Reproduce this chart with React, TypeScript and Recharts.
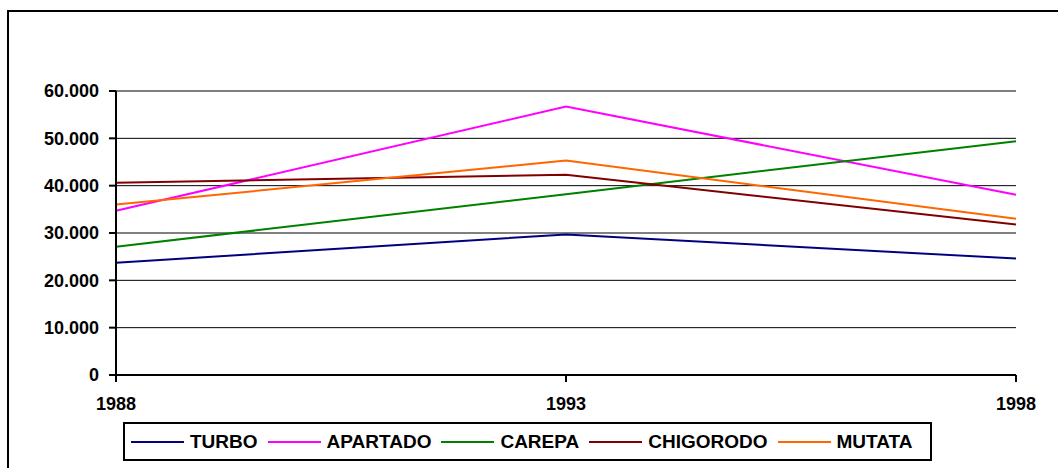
import React from 'react';
import { LineChart, Line, XAxis, YAxis, CartesianGrid } from 'recharts';

const years = ['1988', '1993', '1998'];
const turbo = [23700, 29700, 24600];
const apartado = [34700, 56700, 38100];
const carepa = [27100, 38200, 49400];
const chigorodo = [40600, 42300, 31800];
const mutata = [36000, 45300, 33000];
const yTicks = [0, 10000, 20000, 30000, 40000, 50000, 60000];

const series = [
  { key: 'TURBO', values: turbo, color: '#000080' },
  { key: 'APARTADO', values: apartado, color: '#FF00FF' },
  { key: 'CAREPA', values: carepa, color: '#008000' },
  { key: 'CHIGORODO', values: chigorodo, color: '#800000' },
  { key: 'MUTATA', values: mutata, color: '#FF6600' },
];

const data = years.map((y, i) => {
  const row: Record<string, any> = { year: y };
  series.forEach((s) => (row[s.key] = s.values[i]));
  return row;
});

const fmt = (v: number) => {
  if (v === 0) return '0';
  const th = Math.floor(v / 1000);
  const rest = String(v % 1000).padStart(3, '0');
  return `${th}.${rest}`;
};

const font = '"Liberation Sans", Arial, sans-serif';

export default function App() {
  return (
    <div style={{ position: 'absolute', left: 0, top: 0, width: 1058, height: 468, background: '#fff', overflow: 'hidden', fontFamily: font }}>
      <div style={{ position: 'absolute', left: 7, top: 10, width: 1100, height: 500, borderLeft: '2px solid #000', borderTop: '2px solid #000' }} />
      <div style={{ position: 'absolute', left: 0, top: 0 }}>
        <LineChart width={1058} height={468} data={data} margin={{ top: 91, right: 42, bottom: 63, left: 16 }}>
          <CartesianGrid vertical={false} stroke="#000" strokeWidth={1} />
          <XAxis
            dataKey="year"
            height={30}
            stroke="#000"
            axisLine={{ stroke: '#000', strokeWidth: 2 }}
            tickLine={{ stroke: '#000', strokeWidth: 2 }}
            tickSize={7}
            tickMargin={15}
            tick={{ fill: '#000', fontSize: 18, fontWeight: 'bold', fontFamily: font }}
            interval={0}
          />
          <YAxis
            width={100}
            domain={[0, 60000]}
            ticks={yTicks}
            tickFormatter={fmt}
            stroke="#000"
            axisLine={{ stroke: '#000', strokeWidth: 2 }}
            tickLine={{ stroke: '#000', strokeWidth: 2 }}
            tickSize={7}
            tickMargin={10}
            tick={{ fill: '#000', fontSize: 18, fontWeight: 'bold', fontFamily: font }}
            interval={0}
          />
          {series.map((s) => (
            <Line key={s.key} type="linear" dataKey={s.key} stroke={s.color} strokeWidth={2} dot={false} activeDot={false} isAnimationActive={false} />
          ))}
        </LineChart>
      </div>
      <div
        style={{
          position: 'absolute', left: 123, top: 422, width: 809, height: 39, boxSizing: 'border-box',
          border: '2px solid #000', display: 'flex', alignItems: 'center', paddingLeft: 6,
        }}
      >
        {series.map((s) => (
          <div key={s.key} style={{ display: 'flex', alignItems: 'center', marginRight: 10 }}>
            <div style={{ width: 53, height: 2, background: s.color, marginRight: 6 }} />
            <span style={{ fontSize: 19, fontWeight: 'bold', color: '#000', whiteSpace: 'nowrap' }}>{s.key}</span>
          </div>
        ))}
      </div>
    </div>
  );
}
